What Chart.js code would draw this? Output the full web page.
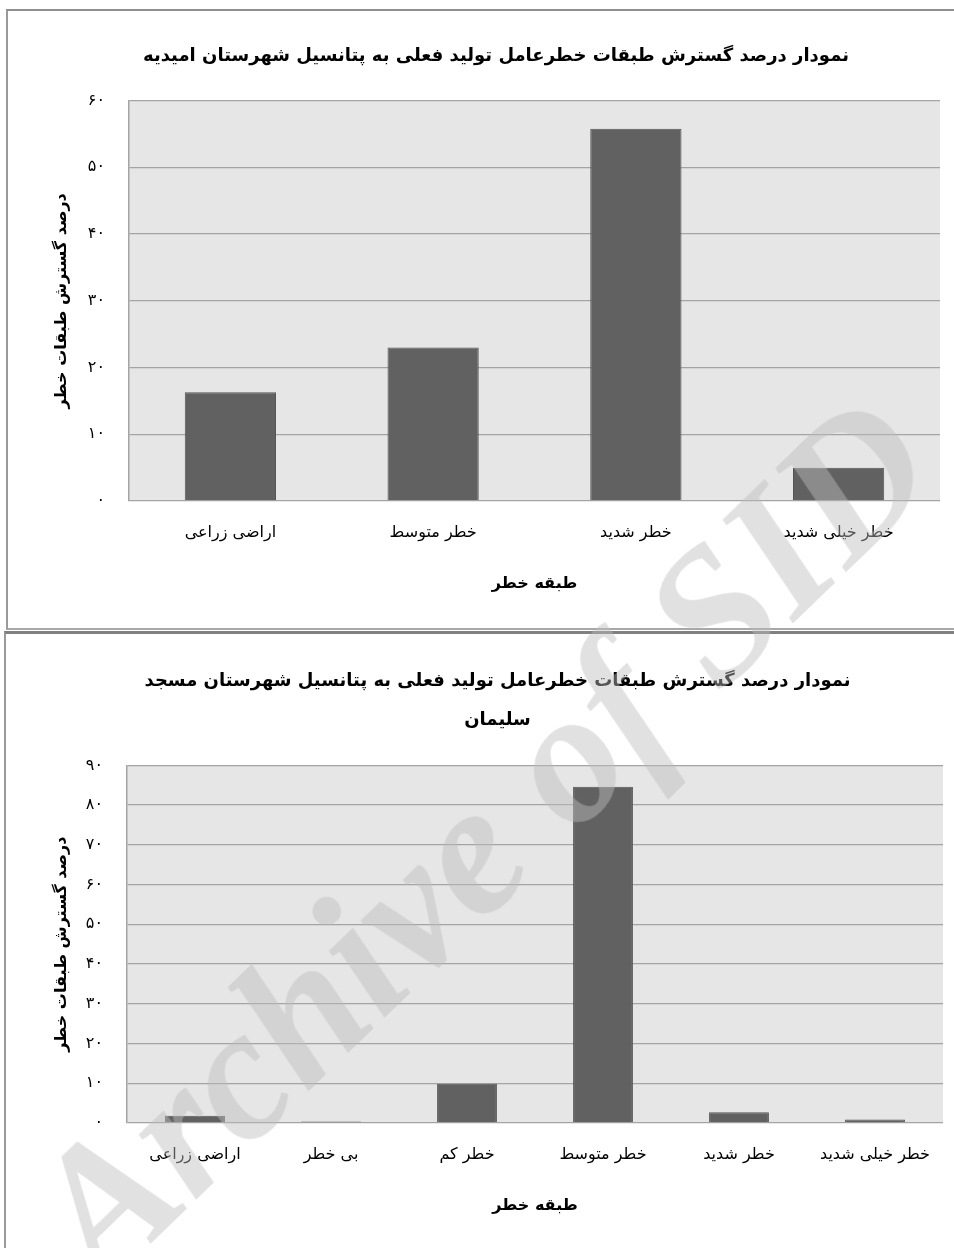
<!DOCTYPE html>
<html lang="fa">
<head>
<meta charset="utf-8">
<title>نمودار درصد گسترش طبقات خطر</title>
<script src="https://cdn.jsdelivr.net/npm/chart.js@4.4.0/dist/chart.umd.min.js"></script>
<style>
  html, body { margin: 0; padding: 0; background: #ffffff; }
  body { width: 954px; height: 1248px; position: relative; overflow: hidden; }
  .frame { position: absolute; box-sizing: border-box; }
  #frame1 { left: 6px; top: 9px; width: 960px; height: 621px; border-top: 2px solid #8f8f8f; border-left: 2px solid #9a9a9a; border-bottom: 2px solid #a8a8a8; }
  #frame2 { left: 4px; top: 631px; width: 960px; height: 640px; border-top: 3px solid #808080; border-left: 2px solid #9a9a9a; }
  canvas { position: absolute; }
  #c1 { left: 7px; top: 10px; }
  #c2 { left: 4px; top: 632px; }
  .stamp {
    position: absolute; left: 480px; top: 838px; width: 0; height: 0;
    pointer-events: none; z-index: 5;
  }
  .stamp span {
    position: absolute; left: 0; top: 0;
    transform: translate(-50%, -50%) rotate(-44deg);
    white-space: nowrap;
    font-family: "Liberation Serif", "DejaVu Serif", serif;
    font-style: italic; font-weight: bold; font-size: 188px; line-height: 1;
    color: rgba(189, 189, 189, 0.45);
  }
</style>
</head>
<body>
<div class="frame" id="frame1"></div>
<div class="frame" id="frame2"></div>
<canvas id="c1" width="947" height="619"></canvas>
<canvas id="c2" width="950" height="616"></canvas>
<div class="stamp"><span>Archive of SID</span></div>
<script>
// ---- Omidiyeh county ----
const omidiyehTitle = 'نمودار درصد گسترش طبقات خطرعامل تولید فعلی به پتانسیل شهرستان امیدیه';
const omidiyehClasses = ['اراضی زراعی', 'خطر متوسط', 'خطر شدید', 'خطر خیلی شدید'];
const omidiyehPercent = [16.3, 23.0, 55.8, 5.0];
const omidiyehTicks = ['۰', '۱۰', '۲۰', '۳۰', '۴۰', '۵۰', '۶۰'];

// ---- Masjed Soleyman county ----
const masjedTitle = ['نمودار درصد گسترش طبقات خطرعامل تولید فعلی به پتانسیل شهرستان مسجد', 'سلیمان'];
const masjedClasses = ['اراضی زراعی', 'بی خطر', 'خطر کم', 'خطر متوسط', 'خطر شدید', 'خطر خیلی شدید'];
const masjedPercent = [1.8, 0.4, 9.9, 84.6, 2.7, 0.9];
const masjedTicks = ['۰', '۱۰', '۲۰', '۳۰', '۴۰', '۵۰', '۶۰', '۷۰', '۸۰', '۹۰'];

const yAxisTitle = 'درصد گسترش طبقات خطر';
const xAxisTitle = 'طبقه خطر';

const FONT = "'DejaVu Sans', 'Noto Sans', sans-serif";

// light grey fill behind the plot area
const plotBackground = {
  id: 'plotBackground',
  beforeDraw(chart) {
    const { ctx, chartArea: a } = chart;
    ctx.save();
    ctx.fillStyle = '#e6e6e6';
    ctx.fillRect(a.left, a.top, a.right - a.left, a.bottom - a.top);
    ctx.restore();
  }
};

function makeChart(canvasId, opt) {
  return new Chart(document.getElementById(canvasId), {
    type: 'bar',
    data: {
      labels: opt.labels,
      datasets: [{
        data: opt.values,
        backgroundColor: '#616161',
        borderColor: '#545454',
        borderWidth: 1,
        barPercentage: opt.barPct,
        categoryPercentage: 1
      }]
    },
    plugins: [plotBackground],
    options: {
      responsive: false,
      animation: false,
      devicePixelRatio: 1,
      layout: { padding: { left: opt.padLeft, right: opt.padRight, top: 0, bottom: 0 } },
      plugins: {
        legend: { display: false },
        tooltip: { enabled: false },
        title: {
          display: true,
          text: opt.title,
          color: '#000000',
          font: { family: FONT, size: 18, weight: 'bold', lineHeight: opt.titleLH },
          padding: opt.titlePad
        }
      },
      scales: {
        x: {
          grid: { display: false, drawTicks: false },
          border: { display: false },
          ticks: { color: '#000000', font: { family: FONT, size: 16 }, padding: 22, maxRotation: 0, autoSkip: false },
          title: {
            display: true, text: xAxisTitle, color: '#000000',
            font: { family: FONT, size: 16, weight: 'bold', lineHeight: 1.2 },
            padding: { top: 0, bottom: opt.xTitlePad }
          },
          afterFit(scale) { scale.height = opt.xHeight; }
        },
        y: {
          min: 0, max: opt.max,
          grid: { color: '#a4a4a4', lineWidth: 1.3, drawTicks: false },
          border: { display: true, color: '#a4a4a4', width: 1.5 },
          ticks: {
            stepSize: 10, padding: 24, color: '#000000',
            font: { family: FONT, size: 16 },
            callback: (v, i) => opt.tickLabels[i]
          },
          title: {
            display: true, text: yAxisTitle, color: '#000000',
            font: { family: FONT, size: 16, weight: 'bold', lineHeight: 1.2 },
            padding: { top: opt.yTitlePad, bottom: 0 }
          },
          afterFit(scale) { scale.width = opt.yWidth; }
        }
      }
    }
  });
}

makeChart('c1', {
  labels: omidiyehClasses, values: omidiyehPercent, tickLabels: omidiyehTicks,
  max: 60, barPct: 0.45, title: omidiyehTitle, titleLH: 1.2,
  titlePad: { top: 36, bottom: 33 },
  padLeft: 45, padRight: 14, yWidth: 77, yTitlePad: 0,
  xHeight: 128, xTitlePad: 36
});

makeChart('c2', {
  labels: masjedClasses, values: masjedPercent, tickLabels: masjedTicks,
  max: 90, barPct: 0.44, title: masjedTitle, titleLH: 2.15,
  titlePad: { top: 30, bottom: 26 },
  padLeft: 48, padRight: 11, yWidth: 75, yTitlePad: 0,
  xHeight: 125, xTitlePad: 33
});
</script>
</body>
</html>
